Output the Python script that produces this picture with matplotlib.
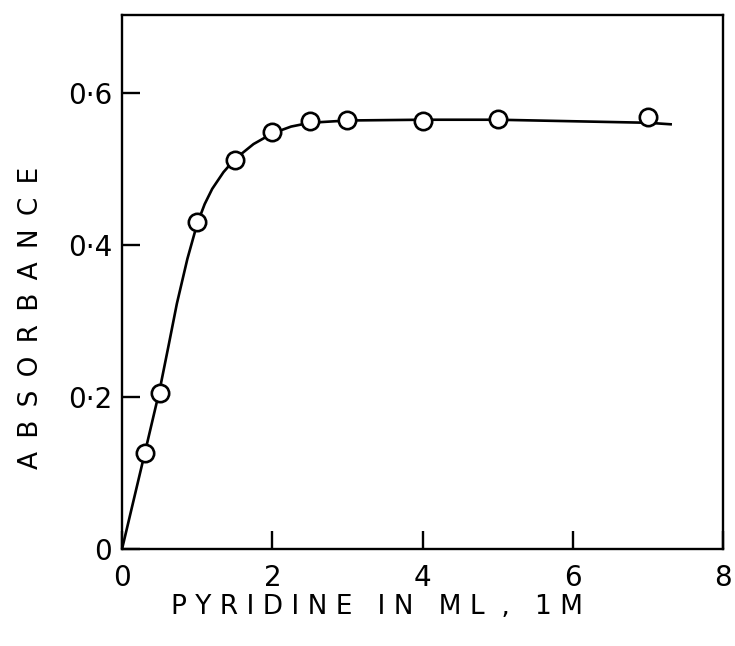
import matplotlib
matplotlib.use("Agg")
import matplotlib.pyplot as plt

plt.rcParams['font.family'] = ['DejaVu Sans']

# measured points
pyridine_ml = [0.3, 0.5, 1.0, 1.5, 2.0, 2.5, 3.0, 4.0, 5.0, 7.0]
absorbance = [0.126, 0.206, 0.430, 0.512, 0.549, 0.563, 0.564, 0.563, 0.566, 0.568]

# hand drawn curve
curve_x = [0.0, 0.3, 0.5, 0.62, 0.73, 0.87, 1.0, 1.1, 1.2, 1.35, 1.5, 1.75, 2.0, 2.25, 2.5, 3.0, 4.0, 5.0, 6.0, 7.0, 7.3]
curve_y = [0.0, 0.125, 0.209, 0.268, 0.323, 0.382, 0.428, 0.454, 0.474, 0.496, 0.513, 0.533, 0.547, 0.556, 0.561, 0.564, 0.565, 0.565, 0.563, 0.561, 0.559]

x_ticks = [0, 2, 4, 6, 8]
y_ticks = [0, 0.2, 0.4, 0.6]
y_tick_labels = ['0', '0·2', '0·4', '0·6']

fig = plt.figure(figsize=(7.35, 6.46), dpi=100)
ax = fig.add_axes([0.166, 0.150, 0.818, 0.827])

ax.plot(curve_x, curve_y, color='black', lw=1.9, zorder=2)
ax.plot(pyridine_ml, absorbance, 'o', ms=12.5, mfc='white', mec='black', mew=1.9, zorder=3)

ax.set_xlim(0, 8)
ax.set_ylim(0, 0.703)
ax.set_xticks(x_ticks)
ax.set_xticklabels([str(t) for t in x_ticks])
ax.set_yticks(y_ticks)
ax.set_yticklabels(y_tick_labels)

for s in ax.spines.values():
    s.set_linewidth(1.7)
ax.tick_params(axis='both', direction='in', length=13, width=1.7, labelsize=20)
ax.tick_params(axis='x', pad=11)
ax.tick_params(axis='y', pad=7)

fig.text(0.513, 0.061, 'P Y R I D I N E   I N   M L  ,   1 M', ha='center', va='center', fontsize=19)
fig.text(0.042, 0.508, '\u2002'.join('ABSORBANCE'), ha='center', va='center', rotation=90, fontsize=19)

fig.savefig('out.png', dpi=100)
